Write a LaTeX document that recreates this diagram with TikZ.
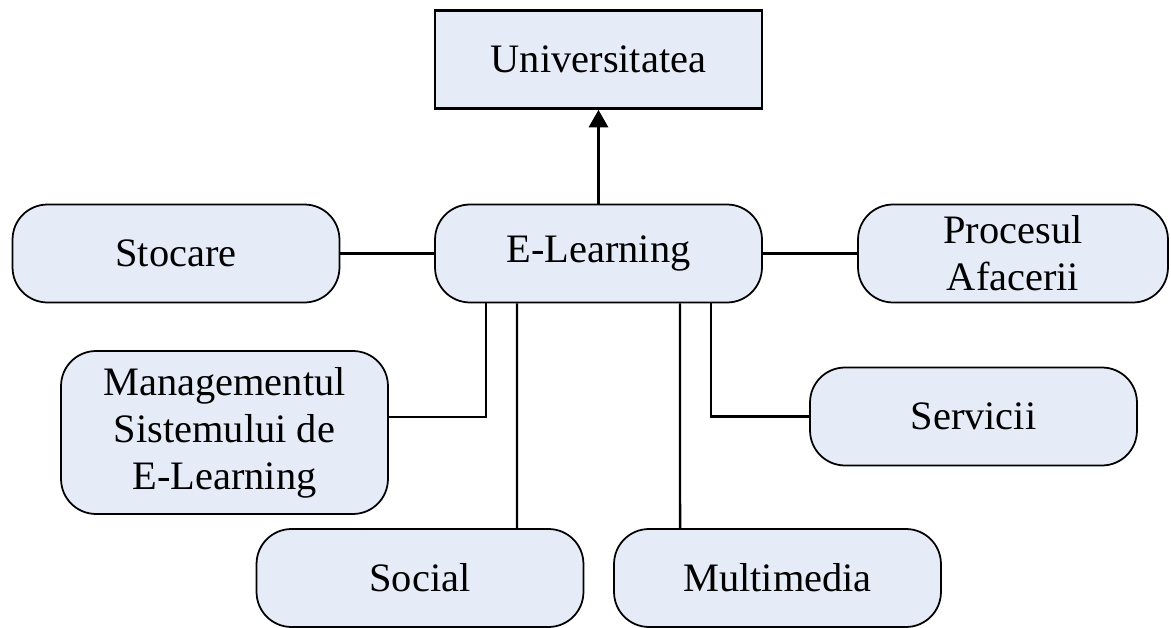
\documentclass[tikz,border=0pt]{standalone}
\usepackage{fontspec}
\setmainfont{Liberation Serif}
\usetikzlibrary{arrows.meta}
\definecolor{albastru}{RGB}{230,236,247}
\tikzset{
  caseta/.style={draw,line width=1pt,fill=albastru,rounded corners=0.7cm,minimum width=6.54cm,minimum height=1.96cm,align=center,inner sep=0pt,font=\fontsize{23}{26.7}\selectfont},
  legatura/.style={line width=1.4pt}
}
\begin{document}
\begin{tikzpicture}[x=0.02cm,y=-0.02cm]
			\useasboundingbox (0,0) rectangle (1171,628);
			%noduri
			\node[caseta,rounded corners=0pt,line width=1.6pt] (univ) at (598.5,59.5) {Universitatea};
			\node[caseta] (elearn) at (598.5,253.5) {E-Learning};
			\node[caseta] (stocare) at (176,253.5) {Stocare};
			\node[caseta,minimum width=6.2cm] (procesul) at (1013,253.5) {Procesul\\Afacerii};
			\node[caseta,minimum height=3.26cm] (mgmt) at (224.5,432.5) {Managementul\\Sistemului de\\E-Learning};
			\node[caseta] (servicii) at (973.5,416.5) {Servicii};
			\node[caseta] (social) at (420,578) {Social};
			\node[caseta] (multimedia) at (777.5,578) {Multimedia};
			%legaturi
			\draw[legatura,-{Triangle[width=11pt,length=10pt]}] (elearn.north) -- (univ.south);
			\draw[legatura] (stocare.east) -- (elearn.west);
			\draw[legatura] (elearn.east) -- (procesul.west);
			\draw[legatura] ([xshift=-2.25cm]elearn.south) |- ([yshift=0.31cm]mgmt.east);
			\draw[legatura] ([xshift=-1.63cm]elearn.south) -- ([xshift=1.94cm]social.north);
			\draw[legatura] ([xshift=1.63cm]elearn.south) -- ([xshift=-1.95cm]multimedia.north);
			\draw[legatura] ([xshift=2.25cm]elearn.south) |- (servicii.west);
\end{tikzpicture}
\end{document}
